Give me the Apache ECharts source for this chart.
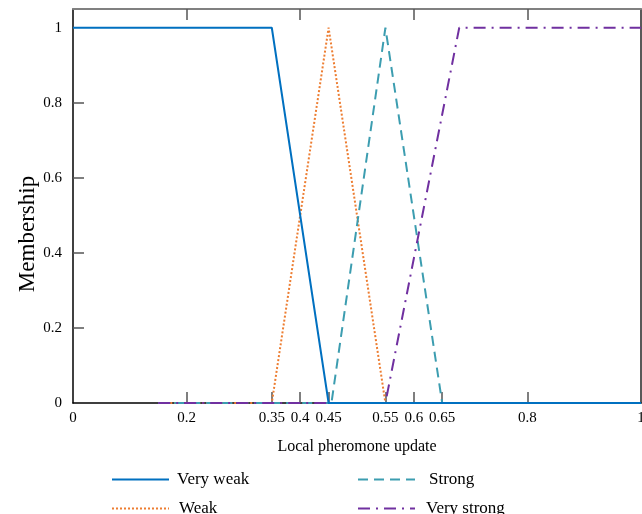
<!DOCTYPE html>
<html>
<head>
<meta charset="utf-8">
<script src="https://cdn.jsdelivr.net/npm/echarts@6/dist/echarts.min.js"></script>
<style>
html, body { margin: 0; padding: 0; background: #fff; }
#chart { width: 642px; height: 514px; }
</style>
</head>
<body>
<div id="chart"></div>
<script>
// membership functions as (x, y) breakpoints
var veryWeakX = [0, 0.35, 0.45, 1];
var veryWeakY = [1, 1, 0, 0];
var weakX = [0.15, 0.35, 0.45, 0.55, 1];
var weakY = [0, 0, 1, 0, 0];
var strongX = [0.15, 0.455, 0.55, 0.65, 1];
var strongY = [0, 0, 1, 0, 0];
var veryStrongX = [0.15, 0.55, 0.68, 1];
var veryStrongY = [0, 0, 1, 1];

var xLabels = [0, 0.2, 0.35, 0.4, 0.45, 0.55, 0.6, 0.65, 0.8, 1];
var xTicks = [0.2, 0.35, 0.4, 0.45, 0.55, 0.6, 0.65, 0.8];
var topTicks = [0.2, 0.4, 0.6, 0.8];
var yLabels = [0, 0.2, 0.4, 0.6, 0.8, 1];
var yTicks = [0.2, 0.4, 0.6, 0.8];

var serif = '"Liberation Serif", "DejaVu Serif", serif';

function pairs(xs, ys) {
    var out = [];
    for (var i = 0; i < xs.length; i++) {
        out.push([xs[i], ys[i]]);
    }
    return out;
}

//一个图例一个组件,手动摆放
function legendAt(name, left, top, padLeft) {
    return {
        data: [name],
        left: left,
        top: top,
        padding: 0,
        itemWidth: 57,
        itemHeight: 14,
        selectedMode: false,
        itemStyle: { color: 'rgba(0,0,0,0)', borderWidth: 0, opacity: 0 },
        textStyle: { fontFamily: serif, fontSize: 17, color: '#000', padding: [0, 0, 0, padLeft] }
    };
}

var chart = echarts.init(document.getElementById('chart'));
var option = {
    animation: false,
    grid: { left: 73, right: 1, top: 9, bottom: 111, containLabel: false, outerBoundsMode: 'none' },
    legend: [
        legendAt('Very weak', 111, 471, 3),
        legendAt('Weak', 111, 500, 5),
        legendAt('Strong', 357, 471, 9),
        legendAt('Very strong', 357, 500, 6)
    ],
    xAxis: [
        {
            type: 'value', min: 0, max: 1,
            name: 'Local pheromone update', nameLocation: 'middle', nameGap: 36,
            nameTextStyle: { fontFamily: serif, fontSize: 16, color: '#000' },
            axisLine: { show: true, onZero: false, lineStyle: { color: '#000', width: 1.5 } },
            axisTick: { inside: true, length: 11, customValues: xTicks, lineStyle: { color: '#555', width: 1.5 } },
            axisLabel: { customValues: xLabels, fontFamily: serif, fontSize: 15, color: '#000', margin: 8,
                formatter: function (v) { return String(v); } },
            splitLine: { show: false }
        },
        {
            type: 'value', min: 0, max: 1, position: 'top',
            axisLine: { show: true, onZero: false, lineStyle: { color: '#808080', width: 2 } },
            axisTick: { inside: true, length: 11, customValues: topTicks, lineStyle: { color: '#555', width: 1.5 } },
            axisLabel: { show: false },
            splitLine: { show: false }
        }
    ],
    yAxis: [
        {
            type: 'value', min: 0, max: 1.05,
            name: 'Membership', nameLocation: 'middle', nameGap: 34, nameMoveOverlap: false,
            nameTextStyle: { fontFamily: serif, fontSize: 23, color: '#000', padding: [0, 56, 0, 0] },
            axisLine: { show: true, onZero: false, lineStyle: { color: '#000', width: 1.5 } },
            axisTick: { inside: true, length: 11, customValues: yTicks, lineStyle: { color: '#555', width: 1.5 } },
            axisLabel: { customValues: yLabels, fontFamily: serif, fontSize: 15, color: '#000', margin: 11 },
            splitLine: { show: false }
        },
        {
            type: 'value', min: 0, max: 1.05, position: 'right',
            axisLine: { show: true, onZero: false, lineStyle: { color: '#222', width: 1.5 } },
            axisTick: { show: false },
            axisLabel: { show: false },
            splitLine: { show: false }
        }
    ],
    series: [
        {
            name: 'Weak', type: 'line', symbol: 'none', z: 2,
            data: pairs(weakX, weakY),
            lineStyle: { color: '#ED7D31', width: 2, type: [2, 2] },
            itemStyle: { color: '#ED7D31' }
        },
        {
            name: 'Strong', type: 'line', symbol: 'none', z: 3,
            data: pairs(strongX, strongY),
            lineStyle: { color: '#3C9DB0', width: 2, type: [10, 6] },
            itemStyle: { color: '#3C9DB0' }
        },
        {
            name: 'Very strong', type: 'line', symbol: 'none', z: 4,
            data: pairs(veryStrongX, veryStrongY),
            lineStyle: { color: '#7030A0', width: 2, type: [12, 6, 2, 6] },
            itemStyle: { color: '#7030A0' }
        },
        {
            name: 'Very weak', type: 'line', symbol: 'none', z: 5,
            data: pairs(veryWeakX, veryWeakY),
            lineStyle: { color: '#0070C0', width: 2 },
            itemStyle: { color: '#0070C0' }
        }
    ]
};
chart.setOption(option);
</script>
</body>
</html>
